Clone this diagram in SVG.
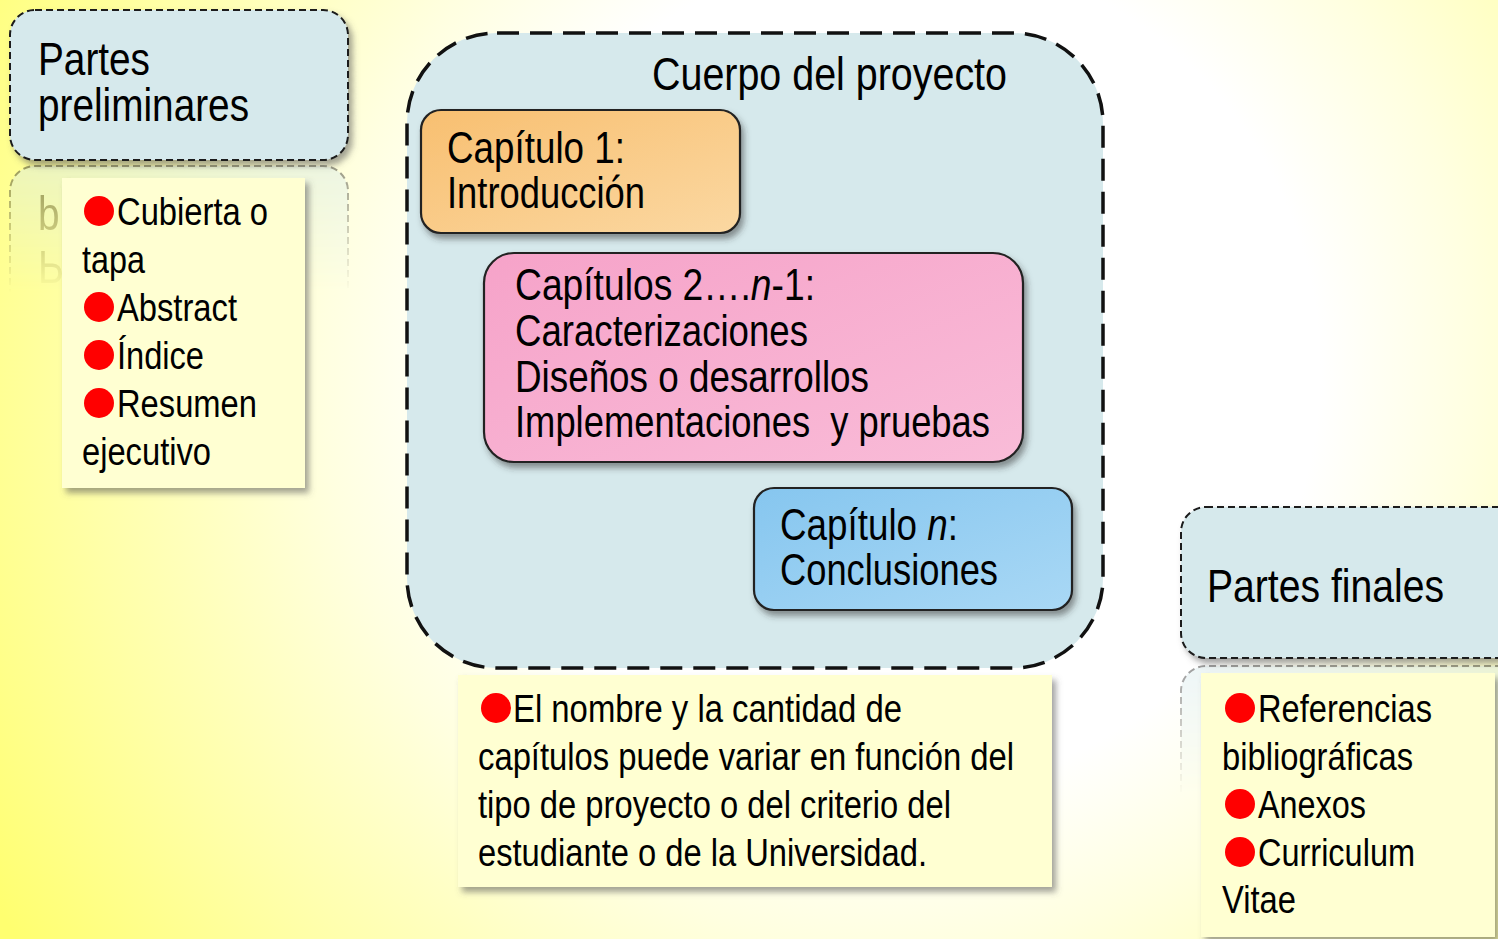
<svg xmlns="http://www.w3.org/2000/svg" width="1498" height="939" viewBox="0 0 1498 939">
<defs>
<radialGradient id="bg" cx="900" cy="370" r="1050" gradientUnits="userSpaceOnUse">
<stop offset="0" stop-color="#ffffff"/>
<stop offset="0.4" stop-color="#ffffff"/>
<stop offset="0.55" stop-color="#ffffe0"/>
<stop offset="0.78" stop-color="#ffffa8"/>
<stop offset="1" stop-color="#ffff70"/>
</radialGradient>
<linearGradient id="gOr" x1="0" y1="0" x2="1" y2="1">
<stop offset="0" stop-color="#f8bf70"/>
<stop offset="1" stop-color="#fbd8a2"/>
</linearGradient>
<linearGradient id="gPk" x1="0" y1="0" x2="1" y2="1">
<stop offset="0" stop-color="#f6a3c9"/>
<stop offset="1" stop-color="#f9bcd8"/>
</linearGradient>
<linearGradient id="gBl" x1="0" y1="0" x2="1" y2="1">
<stop offset="0" stop-color="#86c6ef"/>
<stop offset="1" stop-color="#a9d8f5"/>
</linearGradient>
<linearGradient id="fadeG" x1="0" y1="0" x2="0" y2="1">
<stop offset="0" stop-color="#fff" stop-opacity="0.45"/>
<stop offset="1" stop-color="#fff" stop-opacity="0"/>
</linearGradient>
<mask id="m1" maskUnits="userSpaceOnUse" x="0" y="160" width="400" height="140">
<rect x="0" y="163" width="400" height="130" fill="url(#fadeG)"/>
</mask>
<mask id="m2" maskUnits="userSpaceOnUse" x="1150" y="655" width="348" height="150">
<rect x="1150" y="660" width="348" height="135" fill="url(#fadeG)"/>
</mask>
<filter id="sh" x="-10%" y="-10%" width="125%" height="130%">
<feDropShadow dx="4" dy="5" stdDeviation="3" flood-color="#555" flood-opacity="0.55"/>
</filter>
<filter id="shb" x="-10%" y="-10%" width="125%" height="130%">
<feDropShadow dx="3" dy="5" stdDeviation="3" flood-color="#333" flood-opacity="0.5"/>
</filter>
</defs>
<style>
text{font-family:"Liberation Sans",Arial,sans-serif;fill:#000;}
.t46{font-size:46px;}
.t44{font-size:44px;}
.t38{font-size:38px;}
.dash{fill:#d6e9ec;stroke:#1a1a1a;stroke-width:2;stroke-dasharray:7 4;}
.note{fill:#ffffd2;}
.chap{stroke:#222;stroke-width:2.2;}
.bul{fill:#ff0000;}
</style>
<rect x="0" y="0" width="1498" height="939" fill="url(#bg)"/>

<g id="cuerpo">
<rect x="407" y="33" width="696" height="635" rx="90" fill="#d6e9ec" stroke="#111" stroke-width="3.5" stroke-dasharray="22 11"/>
<text class="t46" x="652" y="90" textLength="355" lengthAdjust="spacingAndGlyphs">Cuerpo del proyecto</text>
</g>

<g id="preliminares-reflejo" mask="url(#m1)">
<g transform="translate(0,326) scale(1,-1)">
<rect x="10" y="10" width="338" height="150" rx="25" class="dash"/>
<text class="t46" x="38" y="75" textLength="112" lengthAdjust="spacingAndGlyphs">Partes</text>
<text class="t46" x="38" y="121" textLength="211" lengthAdjust="spacingAndGlyphs">preliminares</text>
</g>
</g>
<g id="preliminares">
<rect x="10" y="10" width="338" height="150" rx="25" class="dash" filter="url(#sh)"/>
<text class="t46" x="38" y="75" textLength="112" lengthAdjust="spacingAndGlyphs">Partes</text>
<text class="t46" x="38" y="121" textLength="211" lengthAdjust="spacingAndGlyphs">preliminares</text>
</g>

<g id="nota-preliminares">
<rect x="62" y="178" width="243" height="310" class="note" filter="url(#sh)"/>
<circle class="bul" cx="99" cy="211" r="15"/>
<text class="t38" x="117" y="225" textLength="151" lengthAdjust="spacingAndGlyphs">Cubierta o</text>
<text class="t38" x="82" y="273" textLength="63" lengthAdjust="spacingAndGlyphs">tapa</text>
<circle class="bul" cx="99" cy="307" r="15"/>
<text class="t38" x="117" y="321" textLength="120" lengthAdjust="spacingAndGlyphs">Abstract</text>
<circle class="bul" cx="99" cy="355" r="15"/>
<text class="t38" x="117" y="369" textLength="87" lengthAdjust="spacingAndGlyphs">Índice</text>
<circle class="bul" cx="99" cy="403" r="15"/>
<text class="t38" x="117" y="417" textLength="140" lengthAdjust="spacingAndGlyphs">Resumen</text>
<text class="t38" x="82" y="465" textLength="129" lengthAdjust="spacingAndGlyphs">ejecutivo</text>
</g>

<g id="capitulo1">
<rect x="421" y="110" width="319" height="123" rx="20" fill="url(#gOr)" class="chap" filter="url(#shb)"/>
<text class="t44" x="447" y="163" textLength="178" lengthAdjust="spacingAndGlyphs">Capítulo 1:</text>
<text class="t44" x="447" y="208" textLength="198" lengthAdjust="spacingAndGlyphs">Introducción</text>
</g>

<g id="capitulos2">
<rect x="484" y="253" width="539" height="209" rx="30" fill="url(#gPk)" class="chap" filter="url(#shb)"/>
<text class="t44" x="515" y="300" textLength="300" lengthAdjust="spacingAndGlyphs">Capítulos 2….<tspan font-style="italic">n</tspan>-1:</text>
<text class="t44" x="515" y="346" textLength="293" lengthAdjust="spacingAndGlyphs">Caracterizaciones</text>
<text class="t44" x="515" y="392" textLength="354" lengthAdjust="spacingAndGlyphs">Diseños o desarrollos</text>
<text class="t44" x="515" y="437" textLength="475" lengthAdjust="spacingAndGlyphs" xml:space="preserve">Implementaciones  y pruebas</text>
</g>

<g id="capitulon">
<rect x="754" y="488" width="318" height="122" rx="20" fill="url(#gBl)" class="chap" filter="url(#shb)"/>
<text class="t44" x="780" y="540" textLength="178" lengthAdjust="spacingAndGlyphs">Capítulo <tspan font-style="italic">n</tspan>:</text>
<text class="t44" x="780" y="585" textLength="218" lengthAdjust="spacingAndGlyphs">Conclusiones</text>
</g>

<g id="nota-cuerpo">
<rect x="458" y="675" width="594" height="212" class="note" filter="url(#sh)"/>
<circle class="bul" cx="496" cy="708" r="15"/>
<text class="t38" x="513" y="722" textLength="389" lengthAdjust="spacingAndGlyphs">El nombre y la cantidad de</text>
<text class="t38" x="478" y="770" textLength="536" lengthAdjust="spacingAndGlyphs">capítulos puede variar en función del</text>
<text class="t38" x="478" y="818" textLength="473" lengthAdjust="spacingAndGlyphs">tipo de proyecto o del criterio del</text>
<text class="t38" x="478" y="866" textLength="449" lengthAdjust="spacingAndGlyphs">estudiante o de la Universidad.</text>
</g>

<g id="finales-reflejo" mask="url(#m2)">
<g transform="translate(0,1324) scale(1,-1)">
<rect x="1181" y="507" width="345" height="151" rx="25" class="dash"/>
</g>
</g>
<g id="finales">
<rect x="1181" y="507" width="345" height="151" rx="25" class="dash" filter="url(#sh)"/>
<text class="t46" x="1207" y="602" textLength="237" lengthAdjust="spacingAndGlyphs">Partes finales</text>
</g>

<g id="nota-finales">
<rect x="1201" y="673" width="294" height="264" class="note" filter="url(#sh)"/>
<circle class="bul" cx="1240" cy="708" r="15"/>
<text class="t38" x="1258" y="722" textLength="174" lengthAdjust="spacingAndGlyphs">Referencias</text>
<text class="t38" x="1222" y="770" textLength="191" lengthAdjust="spacingAndGlyphs">bibliográficas</text>
<circle class="bul" cx="1240" cy="804" r="15"/>
<text class="t38" x="1258" y="818" textLength="108" lengthAdjust="spacingAndGlyphs">Anexos</text>
<circle class="bul" cx="1240" cy="852" r="15"/>
<text class="t38" x="1258" y="866" textLength="157" lengthAdjust="spacingAndGlyphs">Curriculum</text>
<text class="t38" x="1222" y="913" textLength="74" lengthAdjust="spacingAndGlyphs">Vitae</text>
</g>

<g id="connectors"/>
</svg>
